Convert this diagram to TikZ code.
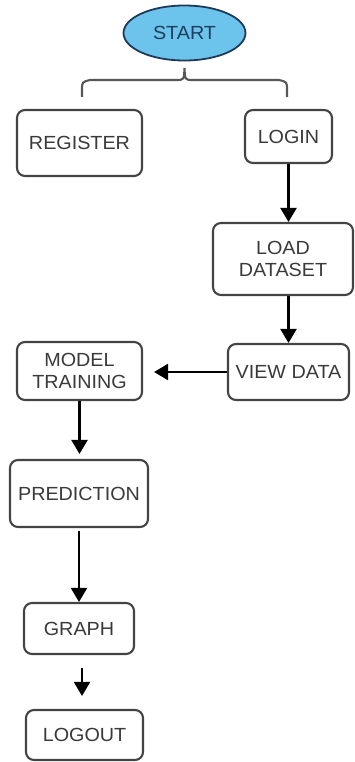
\documentclass[tikz,border=0pt]{standalone}
\usepackage{fontspec}
\setmainfont{Liberation Sans}[FakeStretch=1.04]
\usetikzlibrary{arrows.meta,shapes.geometric}
\definecolor{boxline}{HTML}{444444}
\definecolor{txt}{HTML}{3A3A3A}
\definecolor{startfill}{HTML}{6CC4EC}
\definecolor{startline}{HTML}{1E3A56}
\definecolor{starttxt}{HTML}{1F3D5C}
\tikzset{
  stepbox/.style={draw=boxline, line width=2.1pt, rounded corners=8pt, fill=white,
    text=txt, align=center, inner sep=0pt,
    font=\fontsize{19}{22}\selectfont},
  flow/.style={draw=black, line width=2.2pt, -{Triangle[width=16pt,length=14pt]}},
  bracel/.style={draw=boxline!90, line width=2.1pt}
}
\begin{document}
\begin{tikzpicture}[x=1pt,y=-1pt]
\useasboundingbox (0,0) rectangle (355,762);
\node[ellipse, draw=startline, line width=1.8pt, fill=startfill, text=starttxt,
  minimum width=122pt, minimum height=55pt, inner sep=0pt,
  font=\fontsize{19}{22}\selectfont] (start) at (184.5,33) {START};
\node[stepbox, minimum width=125pt, minimum height=66pt] (register) at (79.5,143) {REGISTER};
\node[stepbox, minimum width=87pt, minimum height=53pt] (login) at (288.5,136.5) {LOGIN};
\node[stepbox, minimum width=140pt, minimum height=72pt] (load) at (283,259) {LOAD\\DATASET};
\node[stepbox, minimum width=121pt, minimum height=56pt] (view) at (288.5,372) {VIEW DATA};
\node[stepbox, minimum width=125pt, minimum height=58pt] (model) at (79.5,371) {MODEL\\TRAINING};
\node[stepbox, minimum width=138pt, minimum height=67pt] (pred) at (79,493.5) {PREDICTION};
\node[stepbox, minimum width=110pt, minimum height=51pt] (graph) at (79,628.5) {GRAPH};
\node[stepbox, minimum width=117pt, minimum height=50pt] (logout) at (84.5,735) {LOGOUT};
% brace under START
\coordinate (bl) at (82,97);
\coordinate (br) at (287,97);
\draw[bracel] (bl) -- (82,90) .. controls (82,82) .. (90,80) -- (176,80)
  .. controls (184,80) .. (184.5,68) .. controls (185,80) .. (193,80)
  -- (279,80) .. controls (287,82) .. (287,90) -- (br);
% flow arrows
\draw[flow] (login.south) -- (login.south |- load.north);
\draw[flow] (load.south -| view.north) -- (view.north);
\draw[flow, shorten >=11pt] (view.west) -- (view.west -| model.east);
\draw[flow, shorten >=5pt] (model.south) -- (model.south |- pred.north);
\draw[flow, shorten <=3pt] (pred.south) -- (pred.south |- graph.north);
\draw[flow, shorten <=13pt, shorten >=13pt] (graph.south -| 82,0) -- (logout.north -| 82,0);
\end{tikzpicture}
\end{document}
